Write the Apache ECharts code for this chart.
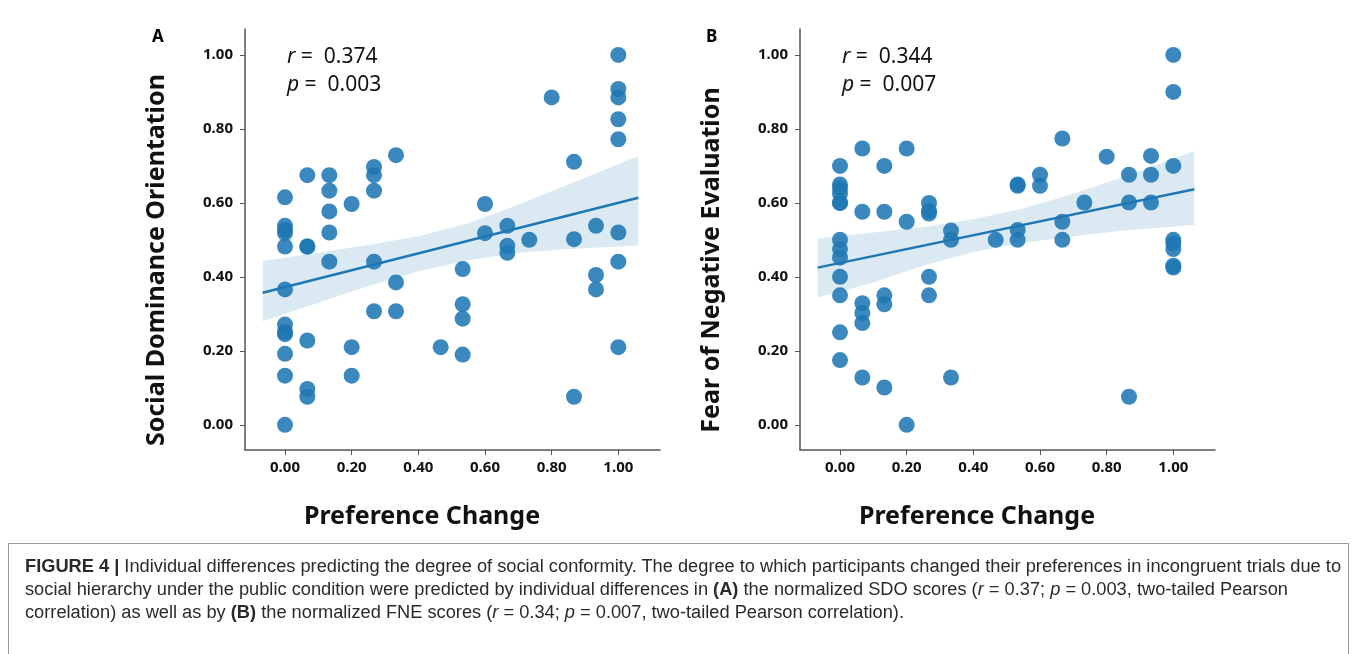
<!DOCTYPE html>
<html>
<head>
<meta charset="utf-8">
<script src="https://cdn.jsdelivr.net/npm/echarts@6/dist/echarts.min.js"></script>
<style>
  html, body { margin: 0; padding: 0; background: #fff; }
  #chart { position: absolute; left: 0; top: 0; width: 1357px; height: 654px; }
  #caption {
    position: absolute; left: 8px; top: 543px; width: 1341px; height: 130px;
    border: 1px solid #9a9a9a; box-sizing: border-box;
  }
  #captionText {
    position: absolute; left: 16px; top: 11px; white-space: nowrap;
    font-family: "Liberation Sans Narrow", "Liberation Sans", sans-serif; font-size: 18px;
    line-height: 23px; color: #2a2a2a; transform-origin: 0 0;
  }
</style>
</head>
<body>
<div id="chart"></div>
<div id="caption"><div id="captionText">
<div id="capLine1"><b>FIGURE 4 |</b> Individual differences predicting the degree of social conformity. The degree to which participants changed their preferences in incongruent trials due to</div>
<div>social hierarchy under the public condition were predicted by individual differences in <b>(A)</b> the normalized SDO scores (<i>r</i> = 0.37; <i>p</i> = 0.003, two-tailed Pearson</div>
<div>correlation) as well as by <b>(B)</b> the normalized FNE scores (<i>r</i> = 0.34; <i>p</i> = 0.007, two-tailed Pearson correlation).</div>
</div></div>
<script>
// panel A: preference change vs social dominance orientation
var prefA = [0, 0, 0, 0, 0, 0, 0, 0, 0, 0, 0, 0,
  0.067, 0.067, 0.067, 0.067, 0.067, 0.067,
  0.133, 0.133, 0.133, 0.133, 0.133,
  0.2, 0.2, 0.2,
  0.267, 0.267, 0.267, 0.267, 0.267,
  0.333, 0.333, 0.333,
  0.467,
  0.533, 0.533, 0.533, 0.533,
  0.6, 0.6,
  0.667, 0.667, 0.667,
  0.733,
  0.8,
  0.867, 0.867, 0.867,
  0.933, 0.933, 0.933,
  1, 1, 1, 1, 1, 1, 1, 1];
var sdo = [0.615, 0.538, 0.527, 0.518, 0.482, 0.366, 0.271, 0.251, 0.245, 0.192, 0.133, 0.0,
  0.675, 0.482, 0.482, 0.228, 0.097, 0.076,
  0.675, 0.633, 0.577, 0.52, 0.441,
  0.597, 0.21, 0.133,
  0.697, 0.675, 0.633, 0.441, 0.307,
  0.729, 0.385, 0.307,
  0.21,
  0.421, 0.326, 0.287, 0.19,
  0.597, 0.518,
  0.538, 0.484, 0.465,
  0.50,
  0.885,
  0.711, 0.502, 0.076,
  0.538, 0.405, 0.366,
  1.0, 0.908, 0.885, 0.826, 0.772, 0.52, 0.441, 0.21];
var fitXA = [-0.067, 1.06];
var fitYA = [0.357, 0.614];
var bandXA = [-0.067, 0.1, 0.25, 0.4, 0.55, 0.7, 0.85, 1.06];
var bandLowA = [0.28, 0.33, 0.375, 0.415, 0.445, 0.465, 0.475, 0.485];
var bandHighA = [0.443, 0.465, 0.486, 0.51, 0.545, 0.595, 0.65, 0.727];

// panel B: preference change vs fear of negative evaluation
var prefB = [0, 0, 0, 0, 0, 0, 0, 0, 0, 0, 0, 0, 0,
  0.067, 0.067, 0.067, 0.067, 0.067, 0.067,
  0.133, 0.133, 0.133, 0.133, 0.133,
  0.2, 0.2, 0.2,
  0.267, 0.267, 0.267, 0.267, 0.267,
  0.333, 0.333, 0.333,
  0.467,
  0.533, 0.533, 0.533, 0.533,
  0.6, 0.6,
  0.667, 0.667, 0.667,
  0.733,
  0.8,
  0.867, 0.867, 0.867,
  0.933, 0.933, 0.933,
  1, 1, 1, 1, 1, 1, 1, 1];
var fne = [0.70, 0.65, 0.64, 0.625, 0.60, 0.60, 0.50, 0.475, 0.452, 0.40, 0.35, 0.25, 0.175,
  0.747, 0.576, 0.329, 0.302, 0.275, 0.128,
  0.70, 0.576, 0.35, 0.326, 0.101,
  0.747, 0.549, 0.0,
  0.60, 0.578, 0.571, 0.40, 0.35,
  0.525, 0.50, 0.128,
  0.50,
  0.65, 0.646, 0.527, 0.50,
  0.676, 0.646,
  0.774, 0.549, 0.50,
  0.601,
  0.725,
  0.676, 0.601, 0.076,
  0.727, 0.676, 0.601,
  1.0, 0.9, 0.70, 0.50, 0.49, 0.475, 0.43, 0.425];
var fitXB = [-0.067, 1.063];
var fitYB = [0.425, 0.637];
var bandXB = [-0.067, 0.1, 0.25, 0.4, 0.55, 0.7, 0.85, 1.063];
var bandLowB = [0.344, 0.385, 0.43, 0.467, 0.492, 0.51, 0.525, 0.54];
var bandHighB = [0.504, 0.52, 0.535, 0.556, 0.585, 0.625, 0.67, 0.74];

var tickVals = [0, 0.2, 0.4, 0.6, 0.8, 1.0];

var blue = '#1f77b4';
var labelFont = '"Noto Sans", sans-serif';

function zip(xs, ys) {
  return xs.map(function (x, i) { return [x, ys[i]]; });
}

function xAxisFor(idx) {
  return {
    type: 'value', gridIndex: idx, min: -0.12, max: 1.125,
    splitLine: { show: false },
    axisLine: { onZero: false, lineStyle: { color: '#555', width: 1.5 } },
    axisTick: { customValues: tickVals, length: 5, lineStyle: { color: '#555' } },
    axisLabel: {
      customValues: tickVals, margin: 10, color: '#111',
      fontFamily: labelFont, fontWeight: 'bold', fontSize: 15,
      formatter: function (v) { return v.toFixed(2); }
    }
  };
}
function yAxisFor(idx) {
  return {
    type: 'value', gridIndex: idx, min: -0.068, max: 1.07,
    splitLine: { show: false },
    axisLine: { show: true, onZero: false, lineStyle: { color: '#555', width: 1.5 } },
    axisTick: { show: true, customValues: tickVals, length: 5, lineStyle: { color: '#555' } },
    axisLabel: {
      customValues: tickVals, margin: 12, color: '#111',
      fontFamily: labelFont, fontWeight: 'bold', fontSize: 15,
      formatter: function (v) { return v.toFixed(2); }
    }
  };
}

function bandSeries(idx, xs, lows, highs) {
  return {
    type: 'custom', xAxisIndex: idx, yAxisIndex: idx, z: 1,
    silent: true,
    data: [0],
    renderItem: function (params, api) {
      var pts = [];
      for (var i = 0; i < xs.length; i++) pts.push(api.coord([xs[i], highs[i]]));
      for (var j = xs.length - 1; j >= 0; j--) pts.push(api.coord([xs[j], lows[j]]));
      return {
        type: 'polygon',
        shape: { points: pts },
        style: { fill: blue, opacity: 0.16 }
      };
    }
  };
}

function fitSeries(idx, xs, ys) {
  return {
    type: 'line', xAxisIndex: idx, yAxisIndex: idx, z: 2,
    data: zip(xs, ys), symbol: 'none', silent: true,
    lineStyle: { color: blue, width: 2.5 }
  };
}

function dotSeries(idx, xs, ys) {
  return {
    type: 'scatter', xAxisIndex: idx, yAxisIndex: idx, z: 3,
    data: zip(xs, ys), symbolSize: 16,
    itemStyle: { color: blue, opacity: 0.88 }
  };
}

function statText(x, r, p) {
  return {
    type: 'text', left: x, top: 43,
    style: {
      text: '{i|r} =  ' + r + '\n{i|p} =  ' + p,
      font: '21px "Noto Sans", sans-serif', fill: '#111', lineHeight: 28,
      rich: { i: { fontStyle: 'italic', fontSize: 21, fontFamily: '"Noto Sans", sans-serif' } }
    }
  };
}

function titleText(x, y, text, rotate) {
  return {
    type: 'text', x: x, y: y, rotation: rotate ? Math.PI / 2 : 0,
    style: {
      text: text, fill: '#111', align: 'center', verticalAlign: 'middle',
      font: 'bold 25px "Noto Sans", sans-serif'
    }
  };
}

var chart = echarts.init(document.getElementById('chart'));
chart.setOption({
  animation: false,
  grid: [
    { left: 245, top: 29, width: 415, height: 421 },
    { left: 800, top: 29, width: 415, height: 421 }
  ],
  xAxis: [xAxisFor(0), xAxisFor(1)],
  yAxis: [yAxisFor(0), yAxisFor(1)],
  series: [
    bandSeries(0, bandXA, bandLowA, bandHighA),
    fitSeries(0, fitXA, fitYA),
    dotSeries(0, prefA, sdo),
    bandSeries(1, bandXB, bandLowB, bandHighB),
    fitSeries(1, fitXB, fitYB),
    dotSeries(1, prefB, fne)
  ],
  graphic: [
    { type: 'text', left: 152, top: 29, style: { text: 'A', font: 'bold 17px "Noto Sans", sans-serif', fill: '#000' } },
    { type: 'text', left: 706, top: 29, style: { text: 'B', font: 'bold 17px "Noto Sans", sans-serif', fill: '#000' } },
    statText(287, '0.374', '0.003'),
    statText(842, '0.344', '0.007'),
    titleText(157, 260, 'Social Dominance Orientation', true),
    titleText(712, 260, 'Fear of Negative Evaluation', true),
    titleText(422, 517, 'Preference Change', false),
    titleText(977, 517, 'Preference Change', false)
  ]
});

// stretch the caption so the first line spans the box like the original
var cap = document.getElementById('captionText');
var w = document.getElementById('capLine1').getBoundingClientRect().width;
var s = 1316 / w;
cap.style.transform = 'scaleX(' + s.toFixed(4) + ')';
</script>
</body>
</html>
